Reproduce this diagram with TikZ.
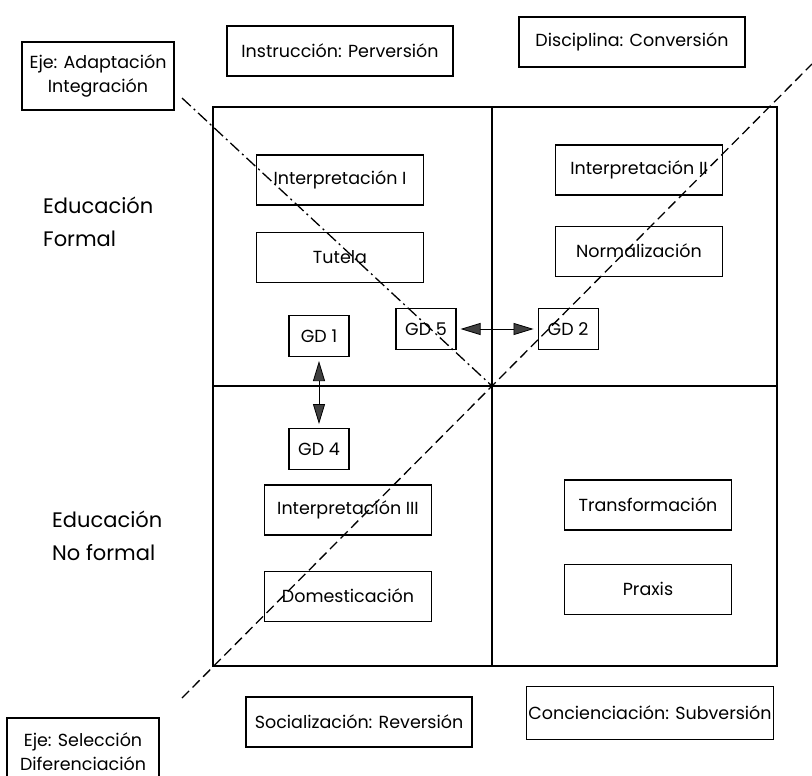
\documentclass[tikz,border=0pt]{standalone}
\usepackage{fontspec}
\setmainfont{Poppins}
\usetikzlibrary{positioning, arrows.meta}

\newcommand{\boxfont}{\fontsize{17.5}{24}\selectfont}
\newcommand{\zonefont}{\fontsize{21}{33}\selectfont}

\begin{document}
\begin{tikzpicture}[x=1pt, y=-1pt,
    box/.style={draw, minimum height=50pt, minimum width=167pt,
                font=\boxfont, align=center, line width=1.1pt, inner sep=2pt},
    gdbox/.style={box, minimum height=41pt, minimum width=60pt},
    ejebox/.style={box, minimum height=68pt, minimum width=152pt},
    wide/.style={box, minimum width=226pt},
    zone/.style={font=\zonefont, align=left, inner sep=3pt},
    frame/.style={line width=1.4pt},
    arr/.style={{Triangle[length=20pt, width=12pt, fill=black!75]}-{Triangle[length=20pt, width=12pt, fill=black!75]},
                line width=0.8pt, shorten <=4pt, shorten >=4pt},
    axisA/.style={line width=1.3pt, dash pattern=on 12pt off 4pt on 2pt off 4pt},
    axisS/.style={line width=1.3pt, dash pattern=on 10pt off 5pt}]

  \useasboundingbox (0,0) rectangle (812,776);

  % === Frame: four quadrants ===
  \draw[frame] (213,107) rectangle (777,666);
  \draw[frame] (492,107) -- (492,666);
  \draw[frame] (213,386) -- (777,386);
  \coordinate (ctr) at (492,386);

  % === Row labels ===
  \node[zone, anchor=west] (formal) at (40,222) {Educación\\Formal};
  \node[zone, anchor=west] (noformal) at (49,536) {Educación\\No formal};

  % === Outer boxes ===
  \node[ejebox] (ejeA) at (98,76) {Eje: Adaptación\\Integración};
  \node[ejebox] (ejeS) at (83,752) {Eje: Selección\\Diferenciación};
  \node[wide] (instr) at (340,51) {Instrucción: Perversión};
  \node[wide] (disc) at (632,42) {Disciplina: Conversión};
  \node[wide] (social) at (359,722) {Socialización: Reversión};
  \node[wide, minimum width=246pt, minimum height=53pt] (conc) at (650,713) {Concienciación: Subversión};

  % === Quadrant boxes ===
  \node[box] (int1) at (340,180) {Interpretación I};
  \node[box, below=26pt of int1] (tutela) {Tutela};
  \node[box] (int2) at (639,170) {Interpretación II};
  \node[box, below=30pt of int2] (norm) {Normalización};
  \node[box] (int3) at (348,510) {Interpretación III};
  \node[box, below=35pt of int3] (dom) {Domesticación};
  \node[box] (transf) at (648,505) {Transformación};
  \node[box, below=33pt of transf] (praxis) {Praxis};

  % GD boxes
  \node[gdbox] (gd1) at (319,336) {GD 1};
  \node[gdbox, below=71pt of gd1] (gd4) {GD 4};
  \node[gdbox] (gd5) at (426,329) {GD 5};
  \node[gdbox, right=81pt of gd5] (gd2) {GD 2};

  % === Arrows ===
  \draw[arr] (gd5) -- (gd2);
  \draw[arr] (gd1) -- (gd4);

  % === Axes ===
  \coordinate (aStart) at (182,98);
  \coordinate (sStart) at (182,698);
  \coordinate (sEnd) at (812,64);
  \draw[axisA] (aStart) -- (ctr);
  \draw[axisS] (sStart) -- (sEnd);

\end{tikzpicture}
\end{document}
